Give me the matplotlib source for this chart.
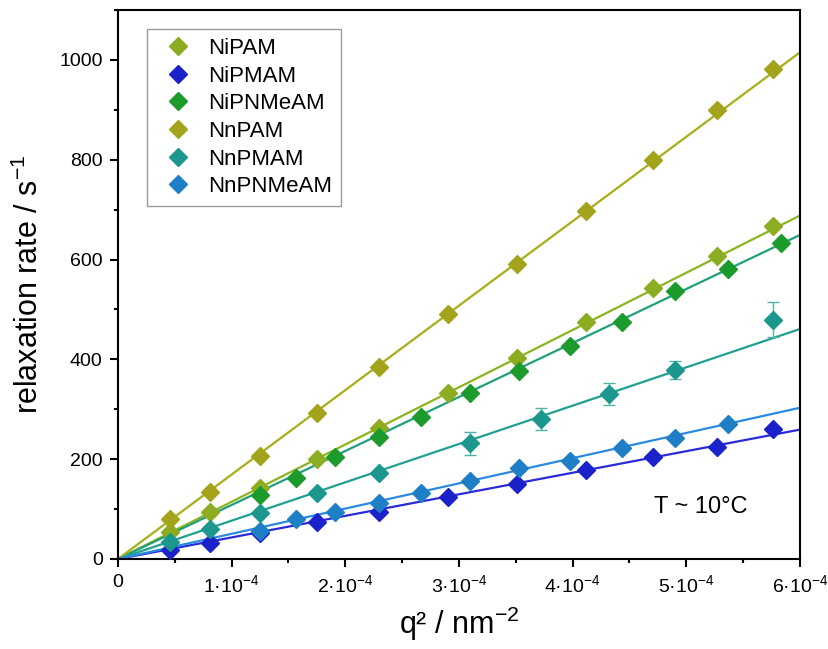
import numpy as np
import matplotlib
matplotlib.use("Agg")
import matplotlib.pyplot as plt
from matplotlib.ticker import FixedLocator, MultipleLocator

plt.rcParams['font.family'] = ['Liberation Sans', 'DejaVu Sans']
plt.rcParams['mathtext.fontset'] = 'custom'
plt.rcParams['mathtext.rm'] = 'Liberation Sans'
plt.rcParams['mathtext.it'] = 'Liberation Sans:italic'
plt.rcParams['mathtext.bf'] = 'Liberation Sans:bold'

# ---- data (q^2 in units of 1e-4 nm^-2, rates in s^-1) ----
names = ["NiPAM", "NiPMAM", "NiPNMeAM", "NnPAM", "NnPMAM", "NnPNMeAM"]

x_nipam = [0.46, 0.81, 1.25, 1.75, 2.30, 2.90, 3.51, 4.12, 4.71, 5.27, 5.76]
y_nipam = [54, 95, 142, 200, 262, 333, 403, 475, 543, 607, 667]

x_nipmam = [0.46, 0.81, 1.25, 1.75, 2.30, 2.90, 3.51, 4.12, 4.71, 5.27, 5.76]
y_nipmam = [18, 33, 52, 74, 94, 124, 150, 178, 204, 225, 260]

x_nipnmeam = [1.25, 1.57, 1.91, 2.30, 2.67, 3.10, 3.53, 3.98, 4.43, 4.90, 5.37, 5.83]
y_nipnmeam = [128, 162, 204, 244, 285, 333, 377, 427, 475, 537, 581, 633]

x_nnpam = [0.46, 0.81, 1.25, 1.75, 2.30, 2.90, 3.51, 4.12, 4.71, 5.27, 5.76]
y_nnpam = [80, 135, 207, 292, 385, 490, 591, 697, 800, 900, 982]

x_nnpmam = [0.46, 0.81, 1.25, 1.75, 2.30, 3.10, 3.72, 4.32, 4.90, 5.76]
y_nnpmam = [34, 60, 92, 132, 172, 232, 281, 331, 379, 479]
e_nnpmam = [3, 4, 5, 5, 6, 23, 22, 22, 18, 35]

x_nnpnmeam = [1.25, 1.57, 1.91, 2.30, 2.67, 3.10, 3.53, 3.98, 4.43, 4.90, 5.37]
y_nnpnmeam = [56, 80, 94, 112, 132, 156, 182, 196, 222, 243, 270]

# linear fit slopes through origin (s^-1 nm^2)
slopes = [1.147e6, 0.432e6, 1.082e6, 1.692e6, 0.768e6, 0.505e6]

xs = [x_nipam, x_nipmam, x_nipnmeam, x_nnpam, x_nnpmam, x_nnpnmeam]
ys = [y_nipam, y_nipmam, y_nipnmeam, y_nnpam, y_nnpmam, y_nnpnmeam]

marker_colors = ["#8cad22", "#1b22c9", "#1c9a2c", "#a4a41c", "#1c978e", "#1f7fc6"]
line_colors = ["#8cb41e", "#2a2ad8", "#1fa07a", "#a8ae18", "#20a090", "#2a8ae0"]

xticks = [0, 1, 2, 3, 4, 5, 6]
xtick_labels = ["0"] + [r"$%d·10^{-4}$" % k for k in range(1, 7)]

# ---- figure ----
fig = plt.figure(figsize=(8.29, 6.49), dpi=100)
ax = fig.add_axes([0.1423, 0.1387, 0.8227, 0.8459])

xfit = np.array([0.0, 6e-4])
for i in range(6):
    ax.plot(xfit, slopes[i] * xfit, color=line_colors[i], lw=1.6, zorder=2)

ax.errorbar(np.array(x_nnpmam) * 1e-4, y_nnpmam, yerr=e_nnpmam, fmt='none',
            ecolor="#4db3aa", elinewidth=1.0, capsize=4, capthick=1.0, zorder=3)

for i in range(6):
    ax.plot(np.array(xs[i]) * 1e-4, ys[i], linestyle='none', marker='D',
            ms=8.8, color=marker_colors[i], mec=marker_colors[i],
            label=names[i], zorder=4)

ax.set_xlim(0, 6e-4)
ax.set_ylim(0, 1100)
ax.xaxis.set_major_locator(FixedLocator([t * 1e-4 for t in xticks]))
ax.set_xticklabels(xtick_labels)
ax.xaxis.set_minor_locator(MultipleLocator(0.5e-4))
ax.yaxis.set_major_locator(MultipleLocator(200))
ax.yaxis.set_minor_locator(MultipleLocator(100))

for s in ax.spines.values():
    s.set_linewidth(1.5)
ax.tick_params(axis='both', which='major', direction='out', length=6, width=1.5,
               labelsize=14, pad=5)
ax.tick_params(axis='both', which='minor', direction='out', length=3, width=1.5)
ax.tick_params(top=False, right=False, which='both')

ax.set_xlabel(r"q² / nm$^{-2}$", fontsize=22, labelpad=6)
ax.set_ylabel(r"relaxation rate / s$^{-1}$", fontsize=22, labelpad=10)

ax.text(0.855, 0.095, "T ~ 10°C", transform=ax.transAxes, fontsize=17,
        ha='center', va='center')

leg = ax.legend(loc='upper left', bbox_to_anchor=(0.0425, 0.9654),
                borderaxespad=0, fontsize=16, frameon=True, fancybox=False,
                edgecolor="#9a9a9a", framealpha=1, handletextpad=0.35,
                labelspacing=0.3, borderpad=0.4, handlelength=2.0)
leg.get_frame().set_linewidth(1.0)

fig.savefig("out.png", dpi=100)
